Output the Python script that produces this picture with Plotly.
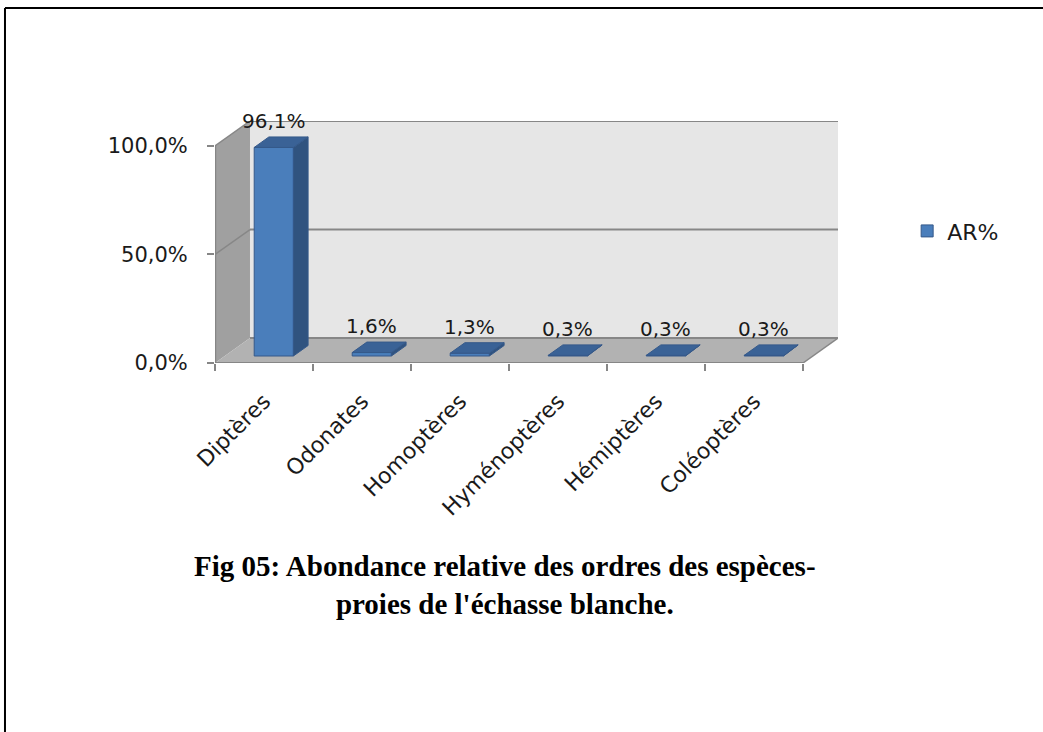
import plotly.graph_objects as go

# Relative abundance (AR%) of prey orders
categories = ["Diptères", "Odonates", "Homoptères", "Hyménoptères", "Hémiptères", "Coléoptères"]
ar_values = [96.1, 1.6, 1.3, 0.3, 0.3, 0.3]
y_tick_values = [0, 50, 100]
y_tick_labels = ["0,0%", "50,0%", "100,0%"]
title_lines = ["Fig 05: Abondance relative des ordres des espèces-",
               "proies de l'échasse blanche."]

# Oblique depth of the pseudo-3D box (x in category units, y in percent)
DX = 0.357
DY = 11.5
# bar depth: front face at Z0, back face at Z1 (fractions of box depth)
Z0, Z1 = 0.28, 0.70
BAR_W = 0.40

FRONT = "#4A7EBB"
SIDE = "#30537F"
TOP = "#3A6296"
EDGE = "#35598A"
WALL = "#E6E6E6"
SIDE_WALL = "#A0A0A0"
FLOOR = "#B2B2B2"
GRID = "#878787"
FONT = "DejaVu Sans"
TEXT = "#1a1a1a"

n = len(categories)
fig = go.Figure()

shapes = []
# back wall
shapes.append(dict(type="path", xref="x", yref="y", layer="below",
                   path=f"M{DX},{DY} L{n+DX},{DY} L{n+DX},{100+DY} L{DX},{100+DY} Z",
                   fillcolor=WALL, line=dict(width=0)))
# side wall
shapes.append(dict(type="path", xref="x", yref="y", layer="below",
                   path=f"M0,0 L{DX},{DY} L{DX},{100+DY} L0,100 Z",
                   fillcolor=SIDE_WALL, line=dict(width=0)))
# floor
shapes.append(dict(type="path", xref="x", yref="y", layer="below",
                   path=f"M0,0 L{n},0 L{n+DX},{DY} L{DX},{DY} Z",
                   fillcolor=FLOOR, line=dict(width=0)))
# gridlines on back wall and side wall
for v in y_tick_values:
    shapes.append(dict(type="line", xref="x", yref="y", layer="below",
                       x0=DX, x1=n + DX, y0=v + DY, y1=v + DY,
                       line=dict(color=GRID, width=2)))
    if v > 0:
        shapes.append(dict(type="line", xref="x", yref="y", layer="below",
                           x0=0, x1=DX, y0=v, y1=v + DY,
                           line=dict(color=GRID, width=1.5)))
# floor right edge
shapes.append(dict(type="line", xref="x", yref="y", layer="below",
                   x0=n, x1=n + DX, y0=0, y1=DY, line=dict(color=GRID, width=1.5)))
# front axis lines
shapes.append(dict(type="line", xref="x", yref="y", x0=0, x1=0, y0=0, y1=100,
                   line=dict(color="#868686", width=2.5)))
shapes.append(dict(type="line", xref="x", yref="y", x0=0, x1=n, y0=0, y1=0,
                   line=dict(color="#868686", width=2)))
# page frame (top and left rules)
shapes.append(dict(type="line", xref="paper", yref="paper",
                   x0=-0.3371, x1=1.33, y0=1.467, y1=1.467,
                   line=dict(color="black", width=2)))
shapes.append(dict(type="line", xref="paper", yref="paper",
                   x0=-0.3371, x1=-0.3371, y0=1.467, y1=-1.53,
                   line=dict(color="black", width=2)))

# bar side and top faces
dzx = (Z1 - Z0) * DX
dzy = (Z1 - Z0) * DY
for i, v in enumerate(ar_values):
    xl = i + 0.5 + Z0 * DX - BAR_W / 2
    xr = xl + BAR_W
    yb = Z0 * DY
    yt = yb + v
    fig.add_trace(go.Scatter(
        x=[xr, xr + dzx, xr + dzx, xr, xr], y=[yb, yb + dzy, yt + dzy, yt, yb],
        fill="toself", fillcolor=SIDE, mode="lines", line=dict(color=EDGE, width=1),
        showlegend=False, hoverinfo="skip"))
    fig.add_trace(go.Scatter(
        x=[xl, xr, xr + dzx, xl + dzx, xl], y=[yt, yt, yt + dzy, yt + dzy, yt],
        fill="toself", fillcolor=TOP, mode="lines", line=dict(color=EDGE, width=1),
        showlegend=False, hoverinfo="skip"))

# bar front faces
fig.add_trace(go.Bar(
    x=[i + 0.5 + Z0 * DX for i in range(n)], y=ar_values, base=[Z0 * DY] * n,
    width=BAR_W, name="AR%",
    marker=dict(color=FRONT, line=dict(color=EDGE, width=1))))

annotations = []
for i, v in enumerate(ar_values):
    annotations.append(dict(
        x=i + 0.5 + Z0 * DX, y=Z0 * DY + v + (Z1 - Z0) * DY,
        xref="x", yref="y", yanchor="bottom", yshift=2, showarrow=False,
        text=f"{v:.1f}%".replace(".", ","),
        font=dict(family=FONT, size=20, color=TEXT)))

# two-line caption below the chart
annotations.append(dict(
    x=0.4655, y=-0.917, xref="paper", yref="paper", showarrow=False,
    xanchor="center", yanchor="middle", align="center",
    text="<b>" + "<br>".join(title_lines) + "</b>",
    font=dict(family="Liberation Serif", size=29, color="black")))

fig.update_layout(
    width=1043, height=732,
    margin=dict(l=215, r=205, t=121, b=369),
    paper_bgcolor="white", plot_bgcolor="rgba(0,0,0,0)",
    shapes=shapes, annotations=annotations,
    showlegend=True,
    legend=dict(x=1.111, y=0.545, xanchor="left", yanchor="middle",
                font=dict(family=FONT, size=22, color=TEXT),
                bgcolor="rgba(0,0,0,0)"),
    xaxis=dict(range=[0, n + DX], showgrid=False, zeroline=False, showline=False,
               tickmode="array", tickvals=[i + 0.5 for i in range(n)], ticktext=categories,
               ticks="", tickangle=-45, ticklabelstandoff=20,
               tickfont=dict(family=FONT, size=22, color=TEXT),
               minor=dict(tickmode="array", tickvals=list(range(n + 1)), ticks="outside",
                          ticklen=7, tickwidth=2, tickcolor="#868686", showgrid=False)),
    yaxis=dict(range=[0, 100 + DY], showgrid=False, zeroline=False, showline=False,
               tickmode="array", tickvals=y_tick_values, ticktext=y_tick_labels,
               ticks="outside", ticklen=7, tickwidth=2, tickcolor="#868686",
               ticklabelstandoff=15,
               tickfont=dict(family=FONT, size=21, color=TEXT)),
)

fig.write_html("out.html")
